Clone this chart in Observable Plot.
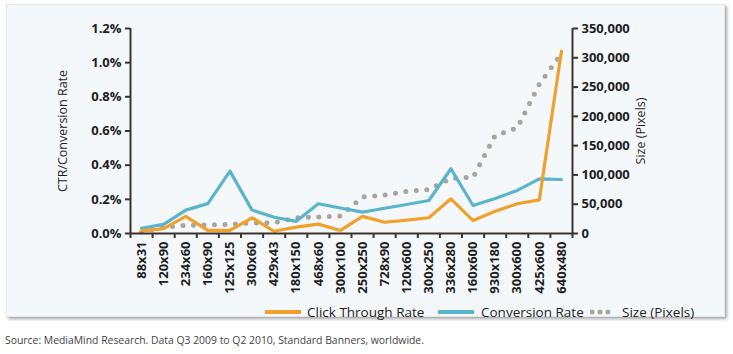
<!DOCTYPE html>
<html>
<head>
<meta charset="utf-8">
<script src="https://cdn.jsdelivr.net/npm/d3@7"></script>
<script src="https://cdn.jsdelivr.net/npm/@observablehq/plot@0.6"></script>
<style>
  body { margin: 0; background: #fff; font-family: "Open Sans", "Noto Sans", sans-serif; }
  #wrap { position: relative; width: 733px; height: 354px; overflow: hidden; }
  #panel { position: absolute; left: 6px; top: 4px; width: 717px; height: 311px; background: #f4f8fb;
           border: 1px solid #e3e7eb; box-shadow: 2px 2px 3px rgba(0,0,0,0.35); }
  #chart { position: absolute; left: 0; top: 0; }
  .leg { position: absolute; top: 303px; font-size: 13.5px; color: #1e1e1e; white-space: nowrap; line-height: 18px; }
  .sw { position: absolute; }
  #source { position: absolute; left: 5px; top: 333px; font-size: 10.4px; color: #444; white-space: nowrap; }
</style>
</head>
<body>
<div id="wrap">
  <div id="panel"></div>
  <div id="chart"></div>
  <div id="legend"></div>
  <div id="source">Source: MediaMind Research. Data Q3 2009 to Q2 2010, Standard Banners, worldwide.</div>
</div>
<script>
const categories = ["88x31","120x90","234x60","160x90","125x125","300x60","429x43","180x150","468x60","300x100",
  "250x250","728x90","120x600","300x250","336x280","160x600","930x180","300x600","425x600","640x480"];
const ctr = [0.015, 0.028, 0.100, 0.018, 0.018, 0.092, 0.013, 0.037, 0.055, 0.018,
  0.100, 0.066, 0.078, 0.092, 0.203, 0.076, 0.130, 0.174, 0.197, 1.067];
const conversion = [0.031, 0.053, 0.137, 0.175, 0.365, 0.137, 0.095, 0.071, 0.174, 0.149,
  0.125, 0.148, 0.170, 0.193, 0.379, 0.164, 0.205, 0.252, 0.320, 0.316];
const sizePixels = [2728, 10800, 14040, 14400, 15625, 18000, 18447, 27000, 28080, 30000,
  62500, 65520, 72000, 75000, 94080, 96000, 167400, 180000, 255000, 307200];
const leftTicks = [0, 0.2, 0.4, 0.6, 0.8, 1.0, 1.2];
const rightTicks = [0, 50000, 100000, 150000, 200000, 250000, 300000, 350000];
const RATE_MAX = 1.2, SIZE_MAX = 350000;

const ORANGE = "#f1a02b", BLUE = "#5ab4ca", GREY = "#aaa49f", AXIS = "#3b3431";

const data = categories.map((c, i) => ({
  i, c, ctr: ctr[i], conv: conversion[i], sizeScaled: sizePixels[i] / SIZE_MAX * RATE_MAX
}));
const edges = d3.range(categories.length + 1).map(k => k - 0.5);

const chart = Plot.plot({
  width: 733, height: 300,
  marginLeft: 130, marginRight: 161, marginTop: 28, marginBottom: 67,
  style: { background: "transparent", fontFamily: "'Open Sans', 'Noto Sans', sans-serif", fontSize: "13px", color: "#1e1e1e" },
  x: { type: "linear", domain: [-0.5, categories.length - 0.5] },
  y: { domain: [0, RATE_MAX] },
  marks: [
    Plot.line(data, { x: "i", y: "sizeScaled", stroke: GREY, strokeWidth: 5, strokeDasharray: "0 10.5", strokeLinecap: "round" }),
    Plot.line(data, { x: "i", y: "conv", stroke: BLUE, strokeWidth: 3.2 }),
    Plot.line(data, { x: "i", y: "ctr", stroke: ORANGE, strokeWidth: 3.2 }),
    Plot.ruleY([0], { stroke: AXIS, strokeWidth: 2 }),
    Plot.ruleX([-0.5, categories.length - 0.5], { y1: 0, y2: RATE_MAX, stroke: AXIS, strokeWidth: 2 }),
    Plot.axisY({ anchor: "left", ticks: leftTicks, tickFormat: d => d.toFixed(1) + "%", tickSize: 5, tickPadding: 4,
      stroke: AXIS, strokeWidth: 2, fontWeight: "bold", fontSize: 13, label: null }),
    Plot.axisY({ anchor: "right", ticks: rightTicks.map(v => v / SIZE_MAX * RATE_MAX),
      tickFormat: d => d3.format(",")(Math.round(d / RATE_MAX * SIZE_MAX)), tickSize: 5, tickPadding: 4,
      stroke: AXIS, strokeWidth: 2, fontWeight: "bold", fontSize: 13, label: null }),
    Plot.axisX({ ticks: edges, tickFormat: () => "", tickSize: 5, stroke: AXIS, strokeWidth: 2, label: null }),
    Plot.axisX({ ticks: d3.range(categories.length), tickFormat: i => categories[i], tickSize: 0, tickPadding: 8,
      tickRotate: -90, fontWeight: "bold", fontSize: 13, label: null }),
    Plot.text(["CTR/Conversion Rate"], { frameAnchor: "left", textAnchor: "middle", rotate: -90, dx: -68, fontSize: 12.5, fill: "#1e1e1e" }),
    Plot.text(["Size (Pixels)"], { frameAnchor: "right", textAnchor: "middle", rotate: -90, dx: 68, fontSize: 12.5, fill: "#1e1e1e" })
  ]
});
document.getElementById("chart").appendChild(chart);

// legend
const legendItems = [
  { label: "Click Through Rate", color: ORANGE, type: "line", x: 265, tx: 307 },
  { label: "Conversion Rate", color: BLUE, type: "line", x: 438, tx: 481 },
  { label: "Size (Pixels)", color: GREY, type: "dots", x: 590, tx: 622 }
];
const lg = document.getElementById("legend");
legendItems.forEach(it => {
  const sw = document.createElementNS("http://www.w3.org/2000/svg", "svg");
  sw.setAttribute("width", 36); sw.setAttribute("height", 6);
  sw.setAttribute("class", "sw");
  sw.style.left = it.x + "px";
  sw.style.top = "309px";
  const ln = document.createElementNS("http://www.w3.org/2000/svg", "line");
  ln.setAttribute("x1", it.type === "dots" ? 2 : 0); ln.setAttribute("x2", it.type === "dots" ? 26 : 36);
  ln.setAttribute("y1", 3); ln.setAttribute("y2", 3);
  ln.setAttribute("stroke", it.color);
  if (it.type === "dots") {
    ln.setAttribute("stroke-width", 5); ln.setAttribute("stroke-dasharray", "0 8");
    ln.setAttribute("stroke-linecap", "round");
  } else {
    ln.setAttribute("stroke-width", 4);
  }
  sw.appendChild(ln);
  lg.appendChild(sw);
  const t = document.createElement("div");
  t.className = "leg";
  t.style.left = it.tx + "px";
  t.textContent = it.label;
  lg.appendChild(t);
});
</script>
</body>
</html>
